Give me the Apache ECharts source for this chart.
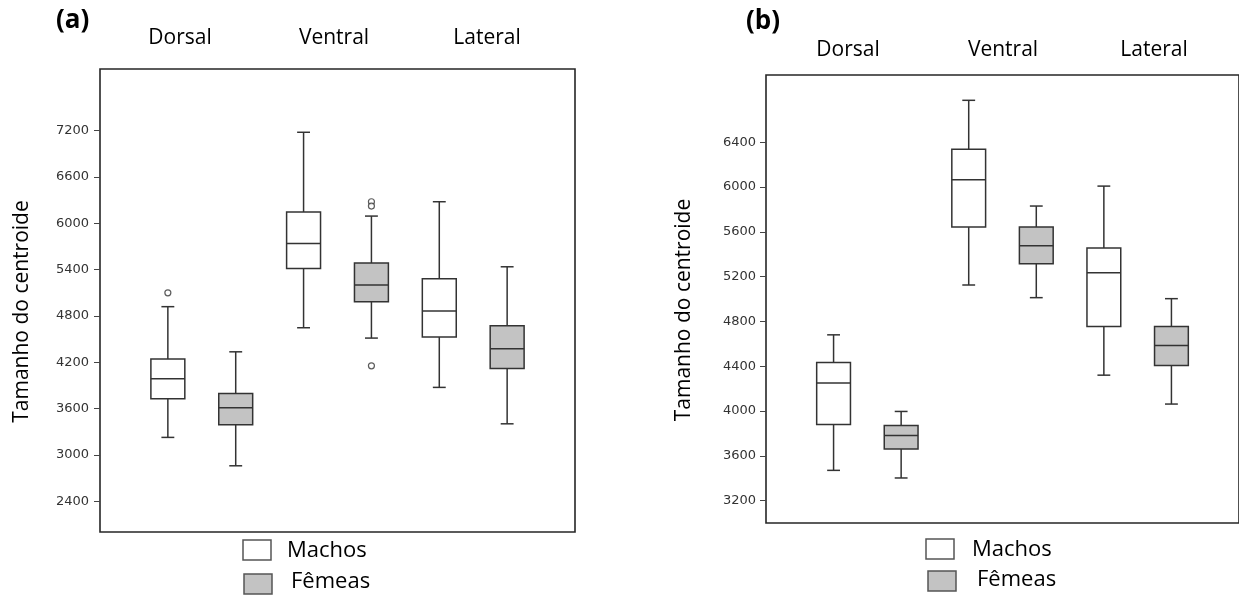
<!DOCTYPE html>
<html>
<head>
<meta charset="utf-8">
<script src="https://cdn.jsdelivr.net/npm/echarts@6/dist/echarts.min.js"></script>
<style>
html,body{margin:0;padding:0;background:#fff;}
#chart{width:1239px;height:595px;}
</style>
</head>
<body>
<div id="chart"></div>
<script>
// ---- data ----
const groups = ['Dorsal', 'Ventral', 'Lateral'];
const sexes = ['Machos', 'Fêmeas'];

// [min, Q1, median, Q3, max] per group
const aMachos = [[3226, 3726, 3985, 4241, 4920], [4647, 5416, 5740, 6146, 7180], [3874, 4526, 4863, 5282, 6280]];
const aFemeas = [[2858, 3389, 3610, 3796, 4335], [4513, 4984, 5200, 5485, 6094], [3402, 4120, 4374, 4673, 5437]];
const aMachosOut = [[5100], [], []];
const aFemeasOut = [[], [6280, 6224, 4154], []];

const bMachos = [[3470, 3880, 4249, 4433, 4680], [5125, 5642, 6064, 6338, 6774], [4320, 4754, 5235, 5455, 6008]];
const bFemeas = [[3402, 3661, 3782, 3871, 3996], [5012, 5315, 5476, 5642, 5830], [4062, 4406, 4584, 4754, 5003]];
const bMachosOut = [[], [], []];
const bFemeasOut = [[], [], []];

const aTicks = [2400, 3000, 3600, 4200, 4800, 5400, 6000, 6600, 7200];
const bTicks = [3200, 3600, 4000, 4400, 4800, 5200, 5600, 6000, 6400];

const yName = 'Tamanho do centroide';

// ---- build ----
const fills = ['#ffffff', '#c3c3c3'];
const strokeC = '#333333';

function boxData(machos, femeas) {
  const out = [];
  [machos, femeas].forEach((arr, s) => {
    arr.forEach((v, g) => out.push([1 + 2 * g + s].concat(v).concat([s])));
  });
  return out;
}
function outData(machosOut, femeasOut) {
  const out = [];
  [machosOut, femeasOut].forEach((arr, s) => {
    arr.forEach((vals, g) => vals.forEach(v => out.push([1 + 2 * g + s, v])));
  });
  return out;
}

function renderBox(params, api) {
  const x = api.value(0);
  const unit = api.size([1, 0])[0];
  const half = unit * 0.25;
  const cap = unit * 0.095;
  const pMin = api.coord([x, api.value(1)]);
  const pQ1 = api.coord([x, api.value(2)]);
  const pMed = api.coord([x, api.value(3)]);
  const pQ3 = api.coord([x, api.value(4)]);
  const pMax = api.coord([x, api.value(5)]);
  const s = api.value(6);
  const ls = { stroke: strokeC, lineWidth: 1.5 };
  const cx = pMed[0];
  return {
    type: 'group',
    children: [
      { type: 'line', shape: { x1: cx, y1: pMax[1], x2: cx, y2: pQ3[1] }, style: ls },
      { type: 'line', shape: { x1: cx, y1: pQ1[1], x2: cx, y2: pMin[1] }, style: ls },
      { type: 'line', shape: { x1: cx - cap, y1: pMax[1], x2: cx + cap, y2: pMax[1] }, style: ls },
      { type: 'line', shape: { x1: cx - cap, y1: pMin[1], x2: cx + cap, y2: pMin[1] }, style: ls },
      { type: 'rect', shape: { x: cx - half, y: pQ3[1], width: 2 * half, height: pQ1[1] - pQ3[1] },
        style: { fill: fills[s], stroke: strokeC, lineWidth: 1.5 } },
      { type: 'line', shape: { x1: cx - half, y1: pMed[1], x2: cx + half, y2: pMed[1] }, style: ls }
    ]
  };
}

const grids = [
  { left: 100, top: 69, width: 475, height: 463, ymin: 2000, ymax: 8000, ticks: aTicks, margin: 11, nameGap: 67 },
  { left: 766, top: 75, width: 482, height: 448, ymin: 3000, ymax: 7000, ticks: bTicks, margin: 10, nameGap: 71 }
];

const option = {
  backgroundColor: '#ffffff',
  animation: false,
  title: [
    { text: '(a)', left: 51, top: 3, textStyle: { fontFamily: 'Open Sans', fontWeight: 'bold', fontSize: 26, color: '#000' } },
    { text: '(b)', left: 741, top: 4, textStyle: { fontFamily: 'Open Sans', fontWeight: 'bold', fontSize: 26, color: '#000' } }
  ],
  grid: grids.map(g => ({ left: g.left, top: g.top, width: g.width, height: g.height, show: true,
    borderColor: '#262626', borderWidth: 1.6, backgroundColor: 'transparent', containLabel: false })),
  xAxis: grids.map((g, i) => ({ type: 'value', gridIndex: i, min: 0, max: 7, show: false })),
  yAxis: grids.map((g, i) => ({
    type: 'value', gridIndex: i, min: g.ymin, max: g.ymax,
    name: yName, nameLocation: 'middle', nameGap: g.nameGap, nameRotate: 90,
    nameTextStyle: { fontFamily: 'Open Sans', fontSize: 21, color: '#000', padding: [0, 0, 0, -22] },
    axisLine: { show: false },
    axisTick: { show: true, length: 6, customValues: g.ticks, lineStyle: { color: '#444', width: 1 } },
    axisLabel: { customValues: g.ticks, margin: g.margin, fontFamily: 'DejaVu Sans', fontSize: 13, color: '#333',
      formatter: v => String(v) },
    splitLine: { show: false }
  })),
  series: [
    { type: 'custom', xAxisIndex: 0, yAxisIndex: 0, renderItem: renderBox, data: boxData(aMachos, aFemeas), encode: { x: 0, y: [1, 2, 3, 4, 5] } },
    { type: 'scatter', xAxisIndex: 0, yAxisIndex: 0, data: outData(aMachosOut, aFemeasOut), symbol: 'circle', symbolSize: 6,
      itemStyle: { color: '#fff', borderColor: '#333', borderWidth: 1.2 } },
    { type: 'custom', xAxisIndex: 1, yAxisIndex: 1, renderItem: renderBox, data: boxData(bMachos, bFemeas), encode: { x: 0, y: [1, 2, 3, 4, 5] } },
    { type: 'scatter', xAxisIndex: 1, yAxisIndex: 1, data: outData(bMachosOut, bFemeasOut), symbol: 'circle', symbolSize: 6,
      itemStyle: { color: '#fff', borderColor: '#333', borderWidth: 1.2 } }
  ],
  graphic: []
};

// group headers
const headerPos = [
  { xs: [180, 334, 487], y: 38 },
  { xs: [848, 1003, 1154], y: 50 }
];
headerPos.forEach(h => {
  groups.forEach((name, i) => {
    option.graphic.push({ type: 'text', x: h.xs[i], y: h.y,
      style: { text: name, fontFamily: 'Open Sans', fontSize: 21, fill: '#000', textAlign: 'center', textVerticalAlign: 'middle' } });
  });
});

// legends
const legendPos = [
  [{ rx: 243, ry: 540, tx: 287, ty: 551 }, { rx: 244, ry: 574, tx: 291, ty: 582 }],
  [{ rx: 926, ry: 539, tx: 972, ty: 550 }, { rx: 928, ry: 571, tx: 977, ty: 580 }]
];
legendPos.forEach(pair => {
  pair.forEach((p, s) => {
    option.graphic.push({ type: 'rect', shape: { x: p.rx, y: p.ry, width: 28, height: 20 },
      style: { fill: fills[s], stroke: '#555', lineWidth: 1.5 } });
    option.graphic.push({ type: 'text', x: p.tx, y: p.ty,
      style: { text: sexes[s], fontFamily: 'Open Sans', fontSize: 22, fill: '#000', textAlign: 'left', textVerticalAlign: 'middle' } });
  });
});

const chart = echarts.init(document.getElementById('chart'), null, { renderer: 'canvas' });
chart.setOption(option);
</script>
</body>
</html>
